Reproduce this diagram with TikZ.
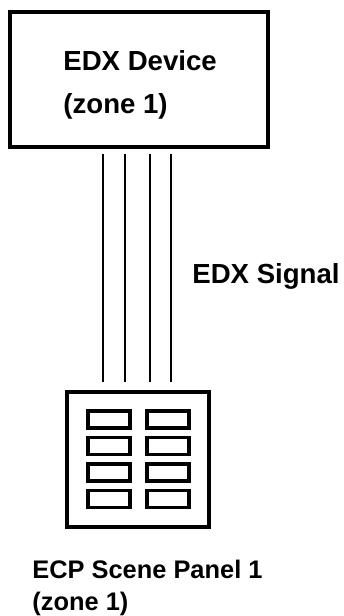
\documentclass[tikz,border=0pt]{standalone}
\usepackage{fontspec}
\setmainfont{Liberation Sans}
\usetikzlibrary{positioning}

\begin{document}
\begin{tikzpicture}[x=0.5pt, y=-0.5pt,
  font=\bfseries\fontsize{13.8}{16}\selectfont,
  devbox/.style={draw, line width=1.6pt, minimum width=129pt, minimum height=67.5pt, inner sep=0pt},
  panelbox/.style={draw, line width=1.6pt, minimum width=71pt, minimum height=67.5pt, inner sep=0pt},
  btn/.style={draw, line width=1.6pt, minimum width=21pt, minimum height=8.5pt, inner sep=0pt},
  wire/.style={line width=1.2pt},
  lbl/.style={anchor=base west, inner sep=0pt},
  small/.style={font=\bfseries\fontsize{12.7}{15}\selectfont}]
  \useasboundingbox (0,0) rectangle (343,616);
  % device and panel
  \node[devbox] (dev) at (139,79.5) {};
  \node[lbl] (devname) at (63,70) {EDX Device};
  \node[lbl] (devzone) at (63,113) {(zone 1)};
  \node[panelbox] (panel) at (138,459.5) {};
  % buttons
  \foreach \r in {0,...,3} {
    \node[btn] (bl\r) at (109,419.5+26.5*\r) {};
    \node[btn] (br\r) at (168,419.5+26.5*\r) {};
  }
  % signal wires
  \foreach \x [count=\i] in {103,125,150,171} {
    \coordinate (w\i) at (\x,382);
    \draw[wire] (dev.south -| w\i) ++(0,5) -- (w\i);
  }
  \node[lbl] (sig) at (192,283) {EDX Signal};
  \node[lbl, small] (pname) at (32,578) {ECP Scene Panel 1};
  \node[lbl, small] (pzone) at (32,610) {(zone 1)};
\end{tikzpicture}
\end{document}
